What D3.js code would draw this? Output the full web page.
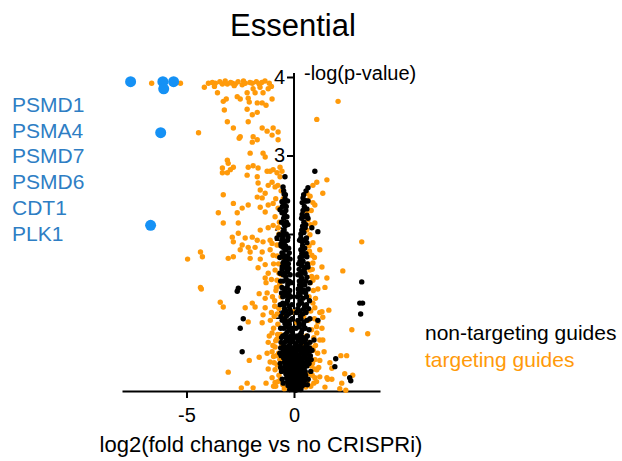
<!DOCTYPE html>
<html>
<head>
<meta charset="utf-8">
<script src="https://cdn.jsdelivr.net/npm/d3@7"></script>
<style>
  body { margin: 0; background: #fff; }
  text { font-family: Arial, 'Liberation Sans', sans-serif; }
</style>
</head>
<body>
<div class="chart"></div>
<script>
// hit genes (blue), label list on the left
const hitGenes = ['PSMD1', 'PSMA4', 'PSMD7', 'PSMD6', 'CDT1', 'PLK1'];
const hitPoints = [[-7.60, 3.94], [-6.10, 3.94], [-6.06, 3.85], [-5.60, 3.94], [-6.20, 3.29], [-6.67, 2.11]];

// targeting guides [log2 fold change, -log p]
const targeting = [
  [-6.62,3.92],[-5.28,3.92],[-4.44,3.29],
  [-4.17,3.87],[-3.98,3.92],[-3.66,3.92],[-3.56,3.80],[-3.33,3.91],[-3.29,3.69],[-3.15,3.72],[-3.24,3.58],[-3.10,3.43],[-3.10,3.91],
  [-2.87,3.92],[-2.73,3.91],[-2.82,3.35],[-2.64,3.75],[-2.50,3.72],[-2.41,3.90],[-2.27,3.92],[-2.18,3.80],[-2.13,3.73],[-1.94,3.92],
  [-1.90,3.85],[-1.81,3.80],[-2.08,3.68],[-2.18,3.59],[-1.94,3.52],[-2.13,3.43],[-1.71,3.67],[-1.48,3.67],[-1.44,3.80],[-1.30,3.64],
  [-1.20,3.85],[-1.02,3.72],[-1.62,3.91],[-1.71,3.55],[-1.48,3.35],[-1.25,3.31],[-0.97,3.35],[-0.74,3.30],[-1.02,3.26],[-1.90,3.24],
  [-1.71,3.20],[-1.94,3.17],[-0.74,3.20],[-2.50,3.24],[-2.55,3.22],[-3.10,2.94],[-3.06,2.90],[-3.33,2.84],[-3.10,2.78],[-2.82,2.85],
  [-2.04,3.03],[-2.13,2.85],[-1.90,2.87],[-1.67,2.84],[-1.44,3.03],[-1.34,2.98],[-1.25,2.80],[-0.97,2.82],[-0.79,2.78],[-0.65,2.85],[-0.56,2.80],
  [-3.80,3.93],[-3.45,3.94],[-3.20,3.95],[-2.95,3.93],[-2.60,3.94],[-2.35,3.95],[-2.05,3.93],[-1.75,3.94],[-1.50,3.93],[-1.35,3.95],
  [-1.15,3.92],[-1.05,3.88],[-3.70,3.88],[-2.78,3.89],[-1.58,3.87],
  [-3.33,2.78],[-2.96,2.82],[-2.18,2.75],[-1.71,2.73],[-1.67,2.65],[-1.57,2.56],[-1.71,2.47],[-1.48,2.46],[-1.34,2.52],[-1.20,2.62],
  [-1.02,2.66],[-0.88,2.60],[-0.65,2.73],[-1.11,2.80],[-3.29,2.50],[-2.82,2.39],[-2.41,2.33],[-2.13,2.37],[-3.52,2.27],[-2.64,2.27],
  [-1.57,2.34],[-1.20,2.37],[-0.97,2.39],[-0.74,2.33],[-1.34,2.28],[-0.88,2.22],[-3.29,2.14],[-2.59,2.14],[-1.57,2.05],[-1.20,2.08],
  [-0.97,2.11],[-0.74,2.08],[-2.87,1.96],[-2.59,2.01],[-2.27,1.95],[-1.94,1.96],[-1.71,1.92],[-2.82,1.90],[-2.41,1.86],[-2.13,1.83],
  [-1.81,1.83],[-1.44,1.90],[-1.11,1.92],[-0.79,1.86],[-2.50,1.80],[-2.04,1.77],[-1.48,1.77],[-1.11,1.80],[-0.97,1.73],[-4.35,1.77],
  [-4.26,1.71],[-4.95,1.68],[-3.06,1.69],[-2.82,1.71],[-2.04,1.69],[-1.57,1.68],[-1.67,1.57],[-1.34,1.61],[-1.20,1.50],[-0.88,1.54],
  [-1.34,1.44],[-0.79,1.41],[-4.35,1.32],
  [0.60,2.52],[0.65,2.43],[0.88,2.62],[1.06,2.66],[1.53,2.69],[1.34,2.52],[0.97,2.37],[0.60,2.28],[0.65,2.18],[0.97,2.14],
  [0.74,1.99],[0.88,1.89],[1.20,1.80],[0.83,1.73],[0.88,1.63],[1.30,1.58],[0.74,1.54],[1.06,1.45],[1.53,1.44],[2.27,1.53],[3.15,1.90],
  [2.05,3.69],[1.06,3.46],
  [-4.31,1.30],[-3.43,1.13],[-3.29,1.07],[-2.27,1.06],[-1.94,1.12],[-1.81,1.07],[-1.62,1.24],[-1.30,1.38],[-1.34,1.18],[-1.34,1.06],
  [-1.44,0.97],[-1.48,0.87],[-2.13,0.88],[-1.02,0.74],[-1.20,0.62],[-0.88,0.56],[-1.02,0.50],[-1.11,0.37],[-0.88,0.27],[-1.02,0.17],
  [-0.88,0.11],[-2.08,0.39],[-1.62,0.43],[-3.06,0.24],[-2.18,0.10],[-1.90,0.04],[-2.45,0.04],[-0.05,1.01],[0.14,0.87],[0.88,1.12],
  [0.97,1.06],[1.30,1.01],[1.34,0.94],[1.62,1.03],[1.11,0.88],[1.06,0.74],[1.20,0.65],[1.34,0.65],[0.83,0.55],[0.88,0.39],
  [1.20,0.39],[1.06,0.27],[1.20,0.18],[0.97,0.17],[1.67,0.36],[1.53,0.17],[1.57,0.15],[1.76,0.15],[2.18,0.45],[2.45,0.45],
  [2.69,0.78],[3.43,0.73],[2.36,0.22],[2.73,0.20],[2.22,0.10],[2.41,0.01],[1.44,0.05],[2.13,0.03],[1.76,0.29],[0.88,1.41],
  [1.11,1.30],[1.44,1.32],
  [-0.60,1.20],[-0.70,1.05],[-0.55,0.95],[-0.75,0.85],[-0.62,0.72],[-0.80,0.66],[-0.58,0.58],[-0.72,0.48],[-0.66,0.40],[-0.78,0.33],
  [-0.60,0.28],[-0.70,0.20],[-0.64,0.14],[-0.52,0.08],[-0.45,0.03],[-0.84,1.28],[-0.66,1.36],[-0.92,0.95],[-0.95,0.44],[-0.85,0.06],
  [-0.58,1.48],[-0.72,1.62],[-0.50,1.70],[-0.62,1.85],[-0.55,2.00],[-0.68,2.15],[-0.50,2.45],[-0.60,2.55],[-1.05,1.00],[-0.90,1.15],
  [0.70,1.20],[0.78,1.02],[0.66,0.90],[0.82,0.78],[0.74,0.62],[0.90,0.52],[0.68,0.44],[0.80,0.32],[0.72,0.22],[0.62,0.12],
  [0.55,0.05],[0.92,0.10],[0.76,1.38],[0.68,1.62],[0.72,1.78],[0.60,2.05],[0.58,0.70],[0.95,0.28],[0.85,1.55],[0.80,2.30],
  [-0.30,0.50],[0.40,0.60],[-0.20,0.20],[0.30,0.10],[0.00,0.30],[-0.40,0.90],[0.45,0.95],
  [-1.10,0.90],[-0.95,0.80],[-1.15,0.70],[-0.85,0.64],[-0.98,0.58],[-1.25,0.48],[-0.82,0.45],[-0.92,0.36],[-1.20,0.28],[-0.75,0.12],
  [-0.95,0.06],[-1.30,0.10],[-0.78,0.98],[-0.90,1.08],[-1.00,1.20],[-0.82,1.32],[-1.05,1.42],[-0.70,1.50],[-0.95,1.62],[-0.78,1.72],
  [-1.02,1.88],[-0.70,2.00],[-0.85,2.45],[-0.75,2.62],[-1.25,1.25],[-0.76,0.72],
  [0.95,0.92],[1.05,0.82],[0.92,0.68],[1.00,0.58],[1.10,0.48],[0.98,0.40],[1.15,0.30],[0.85,0.20],[1.05,0.12],[0.78,0.06],
  [0.90,1.28],[1.00,1.18],[0.82,1.46],[0.95,1.70],[0.70,1.85],[0.78,2.12],[0.88,2.40],[0.75,2.48],[1.20,1.00],[1.30,0.80],
  [1.40,0.50],[0.86,0.35]
];

// non-targeting guides
const nonTargeting = [
  [-0.51,2.60],[-0.46,2.51],[-0.56,2.41],[-0.65,2.31],[-0.56,2.27],[-0.51,2.03],[-0.69,1.99],[-0.79,1.95],[-0.51,1.83],[-0.42,1.80],
  [-0.56,1.76],[-0.37,1.71],[-0.51,1.63],[-0.32,1.54],[-0.65,1.50],[-0.28,1.38],[0.97,2.80],[0.65,2.59],[0.65,2.42],[0.60,2.24],
  [0.65,2.20],[0.83,2.08],[1.11,2.03],[0.51,1.92],[0.60,1.89],[0.42,1.80],[0.60,1.71],[0.42,1.65],[0.65,1.58],[0.51,1.50],
  [0.74,1.38],[3.15,1.39],[-2.59,1.31],[-0.42,2.73],
  [-2.64,1.27],[-2.36,0.92],[-2.50,0.80],[-2.41,0.50],[3.06,1.12],[3.19,1.12],[3.10,0.98],[1.11,0.90],[0.93,0.65],[0.74,0.51],
  [1.94,0.41],[1.90,0.31],[2.59,0.17],[2.64,0.13],
  // left arm
  [-0.40,2.50],[-0.45,2.40],[-0.30,2.42],[-0.38,2.30],[-0.48,2.20],[-0.33,2.22],[-0.42,2.10],[-0.28,2.12],[-0.36,2.00],[-0.50,1.98],
  [-0.44,1.90],[-0.30,1.92],[-0.60,1.88],[-0.38,1.80],[-0.25,1.82],[-0.46,1.70],[-0.30,1.72],[-0.18,1.68],[-0.40,1.60],[-0.26,1.62],
  [-0.55,1.58],[-0.44,1.50],[-0.30,1.52],[-0.18,1.48],[-0.50,1.40],[-0.36,1.42],[-0.22,1.40],[-0.12,1.38],[-0.45,1.30],[-0.32,1.32],
  [-0.20,1.28],[-0.52,1.20],[-0.40,1.22],[-0.28,1.18],[-0.15,1.20],[-0.46,1.10],[-0.34,1.12],[-0.22,1.08],[-0.10,1.10],[-0.50,1.00],
  [-0.38,1.02],[-0.26,0.98],[-0.14,1.00],[-0.55,0.90],[-0.42,0.92],[-0.30,0.88],[-0.18,0.90],[-0.08,0.92],[-0.48,0.80],[-0.36,0.82],
  [-0.24,0.78],[-0.12,0.80],[-0.52,0.70],[-0.40,0.72],[-0.28,0.68],[-0.16,0.70],[-0.05,0.72],
  [-0.42,2.45],[-0.36,2.35],[-0.44,2.25],[-0.35,2.15],[-0.46,2.05],[-0.28,1.96],[-0.40,1.85],[-0.22,1.76],[-0.34,1.66],[-0.48,1.64],
  [-0.24,1.56],[-0.38,1.46],[-0.28,1.36],[-0.40,1.26],[-0.24,1.24],[-0.30,1.15],[-0.44,1.05],[-0.20,1.04],[-0.34,0.96],[-0.22,0.85],
  [-0.42,0.86],[-0.32,0.75],[-0.10,0.76],
  [-0.62,0.55],[-0.60,0.45],[-0.64,0.35],[-0.58,0.25],[-0.55,0.15],[-0.60,0.62],[-0.66,0.48],[-0.62,0.30],[-0.50,0.10],[-0.58,0.68],
  [-0.62,0.80],[-0.60,0.95],[-0.64,1.10],[-0.58,1.25],[-0.62,1.40],[-0.55,1.55],[-0.66,1.70],[-0.60,1.85],[-0.58,2.15],[-0.54,2.35],
  [-0.48,2.55],[-0.52,1.12],[-0.56,1.32],[-0.50,1.48],[-0.44,1.58],[-0.50,1.74],[-0.54,1.94],[-0.46,2.12],[-0.52,2.28],
  // right arm
  [0.45,2.50],[0.38,2.40],[0.55,2.42],[0.42,2.30],[0.35,2.20],[0.50,2.22],[0.40,2.10],[0.55,2.12],[0.32,2.00],[0.46,2.02],
  [0.38,1.90],[0.26,1.92],[0.32,1.80],[0.50,1.82],[0.28,1.70],[0.44,1.72],[0.35,1.60],[0.22,1.62],[0.52,1.58],[0.30,1.50],
  [0.42,1.52],[0.18,1.48],[0.25,1.40],[0.38,1.42],[0.55,1.40],[0.20,1.30],[0.33,1.32],[0.48,1.28],[0.16,1.20],[0.28,1.22],
  [0.42,1.18],[0.58,1.20],[0.22,1.10],[0.36,1.12],[0.50,1.08],[0.12,1.00],[0.26,1.02],[0.40,0.98],[0.56,1.00],[0.18,0.90],
  [0.32,0.92],[0.46,0.88],[0.60,0.90],[0.10,0.80],[0.24,0.82],[0.38,0.78],[0.52,0.80],[0.16,0.70],[0.30,0.72],[0.44,0.68],[0.62,0.70],
  [0.42,2.46],[0.48,2.35],[0.38,2.25],[0.46,2.15],[0.36,2.05],[0.32,1.95],[0.40,1.85],[0.36,1.75],[0.28,1.65],[0.40,1.66],
  [0.24,1.55],[0.34,1.45],[0.26,1.35],[0.40,1.36],[0.22,1.25],[0.34,1.26],[0.28,1.15],[0.44,1.04],[0.18,1.05],[0.30,0.96],
  [0.24,0.86],[0.44,0.84],[0.34,0.74],
  [0.72,0.55],[0.76,0.45],[0.70,0.35],[0.78,0.25],[0.66,0.15],[0.74,0.62],[0.80,0.40],[0.84,0.52],[0.62,0.08],[0.70,0.78],
  [0.74,0.92],[0.68,1.05],[0.72,1.15],[0.66,1.30],[0.60,1.45],[0.62,1.62],[0.56,1.75],[0.58,1.95],[0.52,2.08],[0.60,2.32],
  [0.56,2.55],[0.54,1.25],[0.58,1.10],[0.50,1.35],[0.48,1.55],[0.46,1.92],[0.52,2.42],
  // bottom of the cone
  [-0.44,0.62],[-0.30,0.64],[-0.18,0.61],[-0.04,0.63],[0.08,0.60],[0.20,0.64],[0.34,0.61],[0.48,0.63],[0.60,0.60],
  [-0.48,0.57],[-0.36,0.56],[-0.22,0.58],[-0.10,0.55],[0.04,0.57],[0.16,0.56],[0.28,0.58],[0.42,0.55],[0.55,0.57],[0.66,0.55],
  [-0.50,0.52],[-0.38,0.51],[-0.26,0.53],[-0.12,0.50],[0.00,0.52],[0.12,0.51],[0.26,0.53],[0.40,0.50],[0.52,0.52],[0.64,0.50],
  [-0.46,0.47],[-0.32,0.46],[-0.20,0.48],[-0.06,0.45],[0.06,0.47],[0.18,0.46],[0.32,0.48],[0.46,0.45],[0.58,0.47],
  [-0.48,0.42],[-0.36,0.41],[-0.22,0.43],[-0.10,0.40],[0.02,0.42],[0.14,0.41],[0.26,0.43],[0.38,0.40],[0.52,0.42],[0.64,0.41],
  [-0.44,0.37],[-0.32,0.36],[-0.18,0.38],[-0.06,0.35],[0.08,0.37],[0.20,0.36],[0.32,0.38],[0.46,0.35],[0.58,0.37],
  [-0.42,0.32],[-0.30,0.31],[-0.16,0.33],[-0.04,0.30],[0.08,0.32],[0.22,0.31],[0.34,0.33],[0.48,0.30],[0.60,0.32],
  [-0.40,0.27],[-0.26,0.26],[-0.14,0.28],[0.00,0.25],[0.12,0.27],[0.26,0.26],[0.40,0.28],[0.52,0.25],
  [-0.38,0.22],[-0.24,0.21],[-0.10,0.23],[0.04,0.20],[0.16,0.22],[0.30,0.21],[0.44,0.23],[0.54,0.20],
  [-0.34,0.17],[-0.20,0.16],[-0.08,0.18],[0.04,0.15],[0.18,0.17],[0.30,0.16],[0.44,0.18],[0.54,0.15],
  [-0.30,0.12],[-0.16,0.11],[-0.04,0.13],[0.10,0.10],[0.22,0.12],[0.36,0.11],[0.48,0.13],
  [-0.28,0.07],[-0.14,0.06],[-0.02,0.08],[0.10,0.05],[0.24,0.07],[0.36,0.06],[0.46,0.08],
  [-0.20,0.02],[-0.06,0.03],[0.08,0.01],[0.20,0.03],[0.32,0.02],
  [-0.12,0.66],[0.24,0.67],[0.54,0.66],[-0.36,0.67],[0.02,0.68],[0.40,0.65]
];

const xTicks = [-5, 0];
const yTicks = [1, 2, 3, 4];
const legendItems = [
  { label: 'non-targeting guides', color: '#000000' },
  { label: 'targeting guides', color: '#ff9a0a' }
];

const width = 622;
const height = 461;
const orange = '#ff9a0a';
const blue = '#1591f5';
const labelBlue = '#2e7ec4';

const svg = d3.select('.chart')
  .append('svg')
    .attr('width', width)
    .attr('height', height)
    .style('background', '#fff');

const x = d3.scaleLinear().domain([-8, 4]).range([122, 380]);
const y = d3.scaleLinear().domain([0, 4]).range([391, 77]);

// x axis
const xAxis = svg.append('g')
  .attr('transform', `translate(0,${y(0)})`)
  .call(d3.axisBottom(x).tickValues(xTicks).tickSize(7).tickSizeOuter(0));
xAxis.select('.domain').attr('stroke-width', 2);
xAxis.selectAll('.tick line').attr('stroke-width', 2);
xAxis.selectAll('.tick text')
  .attr('font-size', 20)
  .attr('dy', '1.05em')
  .text(d => d < 0 ? '-' + Math.abs(d) : d);

// y axis
const yAxis = svg.append('g')
  .attr('transform', `translate(${x(0)},0)`)
  .call(d3.axisLeft(y).tickValues(yTicks).tickSize(7).tickSizeOuter(0).tickFormat(d3.format('d')));
yAxis.select('.domain')
  .attr('stroke-width', 2)
  .attr('d', `M0,${y(0)}V${y(4) - 4}`);
yAxis.selectAll('.tick line').attr('stroke-width', 2);
yAxis.selectAll('.tick text')
  .attr('font-size', 20)
  .attr('x', -9);

// points: targeting under non-targeting
svg.append('g').selectAll('circle')
  .data(targeting)
  .enter()
  .append('circle')
    .attr('cx', d => x(d[0]))
    .attr('cy', d => y(d[1]))
    .attr('r', 2.7)
    .attr('fill', orange);

svg.append('g').selectAll('circle')
  .data(nonTargeting)
  .enter()
  .append('circle')
    .attr('cx', d => x(d[0]))
    .attr('cy', d => y(d[1]))
    .attr('r', 2.7)
    .attr('fill', '#000');

svg.append('g').selectAll('circle')
  .data(hitPoints)
  .enter()
  .append('circle')
    .attr('cx', d => x(d[0]))
    .attr('cy', d => y(d[1]))
    .attr('r', 5.5)
    .attr('fill', blue);

// title and axis labels
svg.append('text')
  .attr('x', 293)
  .attr('y', 36)
  .attr('font-size', 31)
  .style('text-anchor', 'middle')
  .text('Essential');

svg.append('text')
  .attr('x', 261)
  .attr('y', 452)
  .attr('font-size', 22)
  .style('text-anchor', 'middle')
  .text('log2(fold change vs no CRISPRi)');

svg.append('text')
  .attr('x', x(0) + 10)
  .attr('y', 80)
  .attr('font-size', 20)
  .text('-log(p-value)');

// gene names
svg.append('g').selectAll('text')
  .data(hitGenes)
  .enter()
  .append('text')
    .attr('x', 12)
    .attr('y', (d, i) => 112 + i * 25.7)
    .attr('font-size', 21)
    .attr('fill', labelBlue)
    .text(d => d);

// legend
svg.append('g').selectAll('text')
  .data(legendItems)
  .enter()
  .append('text')
    .attr('x', 425)
    .attr('y', (d, i) => 340 + i * 27)
    .attr('font-size', 21)
    .attr('fill', d => d.color)
    .text(d => d.label);
</script>
</body>
</html>
